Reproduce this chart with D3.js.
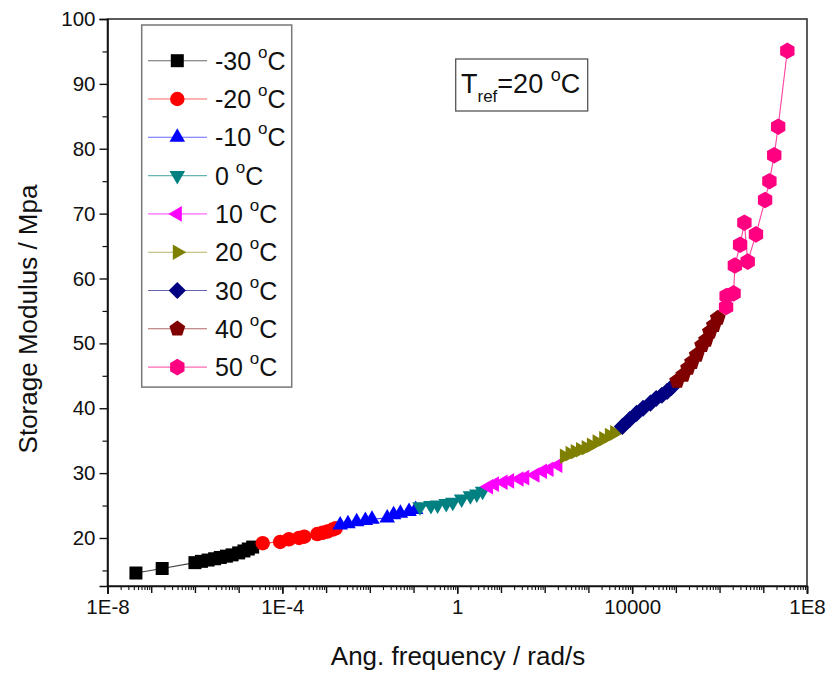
<!DOCTYPE html>
<html><head><meta charset="utf-8">
<script src="https://cdn.jsdelivr.net/npm/d3@7"></script>
<style>html,body{margin:0;padding:0;background:#fff;}svg{display:block;font-family:"Liberation Sans",Arial,sans-serif;}</style>
</head><body>
<svg id="c" width="829" height="676"></svg>
<script>
// ---- data ----
const temps = ["-30", "-20", "-10", "0", "10", "20", "30", "40", "50"];
const colors = ["#000000", "#ff0000", "#0000ff", "#008080", "#ff00ff", "#808000", "#000080", "#800000", "#ff0080"];
const shapes = ["square", "circle", "triUp", "triDown", "triLeft", "triRight", "diamond", "pentagon", "hexagon"];

const freqM30 = [4.47e-8, 1.78e-7, 1.0e-6, 1.41e-6, 2.0e-6, 2.82e-6, 3.8e-6, 5.25e-6, 7.08e-6, 1.0e-5, 1.32e-5, 1.66e-5, 2.09e-5];
const modM30  = [14.6, 15.3, 16.2, 16.4, 16.6, 16.8, 17.0, 17.2, 17.4, 17.7, 18.0, 18.3, 18.6];
const freqM20 = [3.55e-5, 8.9e-5, 1.41e-4, 2.4e-4, 3.16e-4, 6.3e-4, 8.3e-4, 1.07e-3, 1.41e-3, 1.66e-3];
const modM20  = [19.2, 19.4, 19.8, 20.0, 20.2, 20.6, 20.8, 21.0, 21.3, 21.5];
const freqM10 = [2.1e-3, 3.16e-3, 5.0e-3, 7.9e-3, 1.12e-2, 2.5e-2, 3.5e-2, 5.0e-2, 7.9e-2, 0.112];
const modM10  = [22.0, 22.2, 22.5, 22.7, 22.9, 23.1, 23.6, 23.8, 24.1, 24.4];
const freqP0  = [0.141, 0.25, 0.355, 0.56, 0.79, 1.26, 2.0, 2.8, 3.8];
const modP0   = [24.8, 25.0, 25.1, 25.3, 25.5, 26.0, 26.5, 26.8, 27.2];
const freqP10 = [5.2, 7.1, 11.2, 15.8, 26, 35, 60, 89, 126, 200];
const modP10  = [27.9, 28.3, 28.6, 28.8, 29.1, 29.3, 29.7, 30.3, 30.6, 31.2];
const freqP20 = [282, 380, 500, 660, 890, 1170, 1580, 2240, 3020, 3980];
const modP20  = [32.6, 33.0, 33.3, 33.6, 33.9, 34.3, 34.8, 35.3, 35.8, 36.2];
const freqP30 = [6000, 8900, 12600, 17800, 26300, 35500, 47900, 63100, 79400];
const modP30  = [37.2, 38.3, 39.2, 40.0, 40.8, 41.5, 42.0, 42.6, 43.2];
const freqP40 = [1.07e5, 1.48e5, 1.9e5, 2.34e5, 3.0e5, 3.98e5, 4.9e5, 6.0e5, 7.4e5, 9.1e5];
const modP40  = [44.2, 45.1, 46.2, 47.1, 48.2, 49.7, 50.5, 51.8, 52.8, 53.9];
const freqP50 = [1.41e6, 1.45e6, 2.09e6, 2.24e6, 2.95e6, 3.7e6, 4.4e6, 6.8e6, 1.1e7, 1.38e7, 1.78e7, 2.19e7, 3.55e7];
const modP50  = [55.6, 57.3, 57.7, 62.0, 65.2, 68.6, 62.6, 66.8, 72.1, 75.0, 79.0, 83.4, 95.1];

const xTickLabels = ["1E-8", "1E-4", "1", "10000", "1E8"];
const xTickValues = [1e-8, 1e-4, 1, 1e4, 1e8];
const yTickValues = [20, 30, 40, 50, 60, 70, 80, 90, 100];

const freqs = [freqM30, freqM20, freqM10, freqP0, freqP10, freqP20, freqP30, freqP40, freqP50];
const mods = [modM30, modM20, modM10, modP0, modP10, modP20, modP30, modP40, modP50];

// ---- layout ----
const L = 107.5, R = 807, T = 19, B = 586;
const svg = d3.select("#c");
const x = d3.scaleLog().domain([1e-8, 1e8]).range([L, R]);
const y = d3.scaleLinear().domain([12.6, 100]).range([B, T]);
const FONT = "Liberation Sans, Arial, sans-serif";

function poly(n, r, rot) {
  const pts = [];
  for (let i = 0; i < n; i++) {
    const a = rot + i * 2 * Math.PI / n;
    pts.push([r * Math.cos(a), r * Math.sin(a)]);
  }
  return "M" + pts.map(p => p[0].toFixed(2) + "," + p[1].toFixed(2)).join("L") + "Z";
}
function shapePath(s) {
  switch (s) {
    case "square": return "M-6.5,-6.5H6.5V6.5H-6.5Z";
    case "circle": return d3.symbol(d3.symbolCircle, 165)();
    case "triUp": return poly(3, 9, -Math.PI / 2);
    case "triDown": return poly(3, 9, Math.PI / 2);
    case "triLeft": return poly(3, 9, Math.PI);
    case "triRight": return poly(3, 9, 0);
    case "diamond": return poly(4, 8.6, -Math.PI / 2);
    case "pentagon": return poly(5, 8.3, -Math.PI / 2);
    case "hexagon": return poly(6, 8.3, -Math.PI / 2);
  }
}

// frame
svg.append("rect").attr("x", L).attr("y", T).attr("width", R - L).attr("height", B - T)
  .attr("fill", "none").attr("stroke", "#333").attr("stroke-width", 1.6);

// y axis
const yAxis = d3.axisLeft(y).tickValues(yTickValues).tickSize(8).tickPadding(4).tickFormat(d3.format("d"));
const gy = svg.append("g").attr("transform", `translate(${L},0)`).call(yAxis);
gy.select(".domain").attr("stroke", "#111").attr("stroke-width", 1.6);
gy.selectAll(".tick line").attr("stroke", "#111").attr("stroke-width", 1.4);
gy.selectAll(".tick text").attr("font-size", 20.5).attr("fill", "#111").attr("font-family", FONT);
const yMinor = d3.axisLeft(y).tickValues([15, 25, 35, 45, 55, 65, 75, 85, 95]).tickSize(5).tickFormat("");
const gym = svg.append("g").attr("transform", `translate(${L},0)`).call(yMinor);
gym.select(".domain").remove();
gym.selectAll(".tick line").attr("stroke", "#111").attr("stroke-width", 1.2);

// x axis
const minorVals = [];
const decadeVals = [];
for (let e = -8; e < 8; e++) {
  decadeVals.push(Math.pow(10, e));
  for (let k = 2; k <= 9; k++) minorVals.push(k * Math.pow(10, e));
}
decadeVals.push(1e8);
const gxm = svg.append("g").attr("transform", `translate(0,${B})`)
  .call(d3.axisBottom(x).tickValues(minorVals).tickSize(4).tickFormat(""));
gxm.select(".domain").remove();
gxm.selectAll(".tick line").attr("stroke", "#111").attr("stroke-width", 1.1);
const gxd = svg.append("g").attr("transform", `translate(0,${B})`)
  .call(d3.axisBottom(x).tickValues(decadeVals).tickSize(7).tickFormat(""));
gxd.select(".domain").remove();
gxd.selectAll(".tick line").attr("stroke", "#111").attr("stroke-width", 1.4);
const gx = svg.append("g").attr("transform", `translate(0,${B})`)
  .call(d3.axisBottom(x).tickValues(xTickValues).tickSize(8).tickPadding(5)
    .tickFormat((d, i) => xTickLabels[i]));
gx.select(".domain").attr("stroke", "#111").attr("stroke-width", 1.6);
gx.selectAll(".tick line").attr("stroke", "#111").attr("stroke-width", 1.4);
gx.selectAll(".tick text").attr("font-size", 20.5).attr("fill", "#111").attr("font-family", FONT);

// axis titles
svg.append("text").attr("x", 458).attr("y", 665).attr("text-anchor", "middle")
  .attr("font-size", 26).attr("fill", "#111").text("Ang. frequency / rad/s");
svg.append("text").attr("transform", "translate(37,319) rotate(-90)").attr("text-anchor", "middle")
  .attr("font-size", 26).attr("fill", "#111").text("Storage Modulus / Mpa");

// series
const line = d3.line().x(d => x(d[0])).y(d => y(d[1]));
temps.forEach((t, i) => {
  const pts = freqs[i].map((f, j) => [f, mods[i][j]]);
  svg.append("path").datum(pts).attr("d", line).attr("fill", "none")
    .attr("stroke", colors[i]).attr("stroke-width", 1.1).attr("stroke-opacity", 0.75);
  svg.append("g").selectAll("path").data(pts).join("path")
    .attr("transform", d => `translate(${x(d[0])},${y(d[1])})`)
    .attr("d", shapePath(shapes[i])).attr("fill", colors[i]);
});

// legend
const lg = svg.append("g");
const rowH = 38.3, row0 = 60.7;
lg.append("rect").attr("x", 141.7).attr("y", 25).attr("width", 150).attr("height", row0 - 25 + 8 * rowH + 20)
  .attr("fill", "#fff").attr("stroke", "#777").attr("stroke-width", 1.5);
temps.forEach((t, i) => {
  const yy = row0 + i * rowH;
  lg.append("line").attr("x1", 148).attr("x2", 207).attr("y1", yy).attr("y2", yy)
    .attr("stroke", colors[i]).attr("stroke-width", 1.1).attr("stroke-opacity", 0.6);
  lg.append("path").attr("transform", `translate(177.3,${yy})`).attr("d", shapePath(shapes[i])).attr("fill", colors[i]);
  const tx = lg.append("text").attr("x", 215).attr("y", yy + 9).attr("font-size", 25).attr("fill", "#111");
  tx.append("tspan").text(t + " ");
  tx.append("tspan").attr("font-size", 17).attr("dy", -12).text("o");
  tx.append("tspan").attr("dy", 12).text("C");
});

// Tref box
svg.append("rect").attr("x", 455.7).attr("y", 59).attr("width", 132).attr("height", 52)
  .attr("fill", "#fff").attr("stroke", "#555").attr("stroke-width", 1.3);
const tr = svg.append("text").attr("x", 461).attr("y", 93).attr("font-size", 27).attr("fill", "#111");
tr.append("tspan").text("T");
tr.append("tspan").attr("font-size", 17).attr("dy", 9).text("ref");
tr.append("tspan").attr("dy", -9).text("=20 ");
tr.append("tspan").attr("font-size", 18).attr("dy", -12).text("o");
tr.append("tspan").attr("dy", 12).text("C");
</script>
</body></html>
